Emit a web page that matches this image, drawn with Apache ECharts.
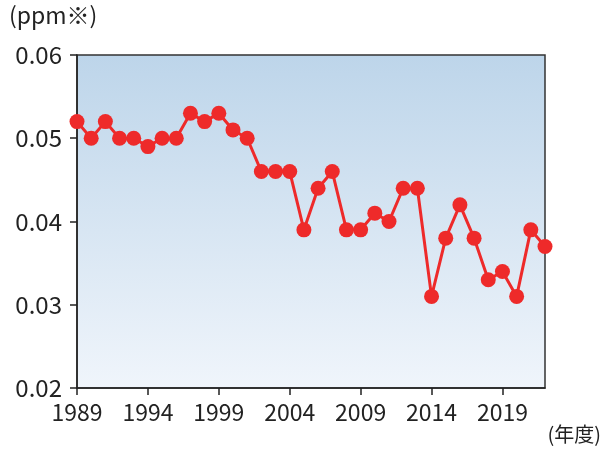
<!DOCTYPE html>
<html>
<head>
<meta charset="utf-8">
<script src="https://cdn.jsdelivr.net/npm/echarts@6/dist/echarts.min.js"></script>
<style>
  html, body { margin: 0; padding: 0; background: #fff; }
  #chart { width: 603px; height: 450px; }
</style>
</head>
<body>
<div id="chart"></div>
<script>
// 年度
const years = []
for (let y = 1989; y <= 2022; y++) years.push(String(y))

// 濃度 (ppm)
const values = [
  0.052, 0.050, 0.052, 0.050, 0.050, 0.049, 0.050, 0.050, 0.053, 0.052,
  0.053, 0.051, 0.050, 0.046, 0.046, 0.046, 0.039, 0.044, 0.046, 0.039,
  0.039, 0.041, 0.040, 0.044, 0.044, 0.031, 0.038, 0.042, 0.038, 0.033,
  0.034, 0.031, 0.039, 0.037
]

const yTicks = [0.02, 0.03, 0.04, 0.05, 0.06]

const font = '"Noto Sans CJK JP", "Noto Sans", sans-serif'
const myChart = echarts.init(document.getElementById('chart'))

myChart.setOption({
  animation: false,
  textStyle: { fontFamily: font },
  grid: {
    left: 77,
    right: 58,
    top: 55,
    bottom: 62,
    show: true,
    borderColor: '#333',
    borderWidth: 1.5,
    backgroundColor: new echarts.graphic.LinearGradient(0, 0, 0, 1, [
      { offset: 0, color: '#bdd5ea' },
      { offset: 1, color: '#f0f5fb' }
    ])
  },
  graphic: [
    {
      type: 'text',
      left: 9,
      top: 4,
      style: { text: '(ppm※)', fontSize: 23, fill: '#222', fontFamily: font }
    },
    {
      type: 'text',
      right: 2,
      top: 424,
      style: { text: '(年度)', fontSize: 20, fill: '#222', fontFamily: font }
    }
  ],
  xAxis: {
    type: 'category',
    data: years,
    boundaryGap: false,
    axisLine: { lineStyle: { color: '#222', width: 1.5 } },
    axisTick: { interval: 4, length: 7, lineStyle: { color: '#222', width: 1.5 } },
    axisLabel: { interval: 4, fontSize: 23, color: '#222', margin: 13 },
    splitLine: { show: false }
  },
  yAxis: {
    type: 'value',
    min: yTicks[0],
    max: yTicks[yTicks.length - 1],
    interval: 0.01,
    axisLine: { show: true, lineStyle: { color: '#222', width: 1.5 } },
    axisTick: { show: true, length: 7, lineStyle: { color: '#222', width: 1.5 } },
    axisLabel: {
      fontSize: 24,
      color: '#222',
      margin: 15,
      formatter: v => v.toFixed(2)
    },
    splitLine: { show: false }
  },
  series: [{
    type: 'line',
    data: values,
    symbol: 'circle',
    symbolSize: 15,
    showAllSymbol: true,
    lineStyle: { color: '#ee2a2a', width: 3 },
    itemStyle: { color: '#ee2a2a' }
  }]
})
</script>
</body>
</html>
